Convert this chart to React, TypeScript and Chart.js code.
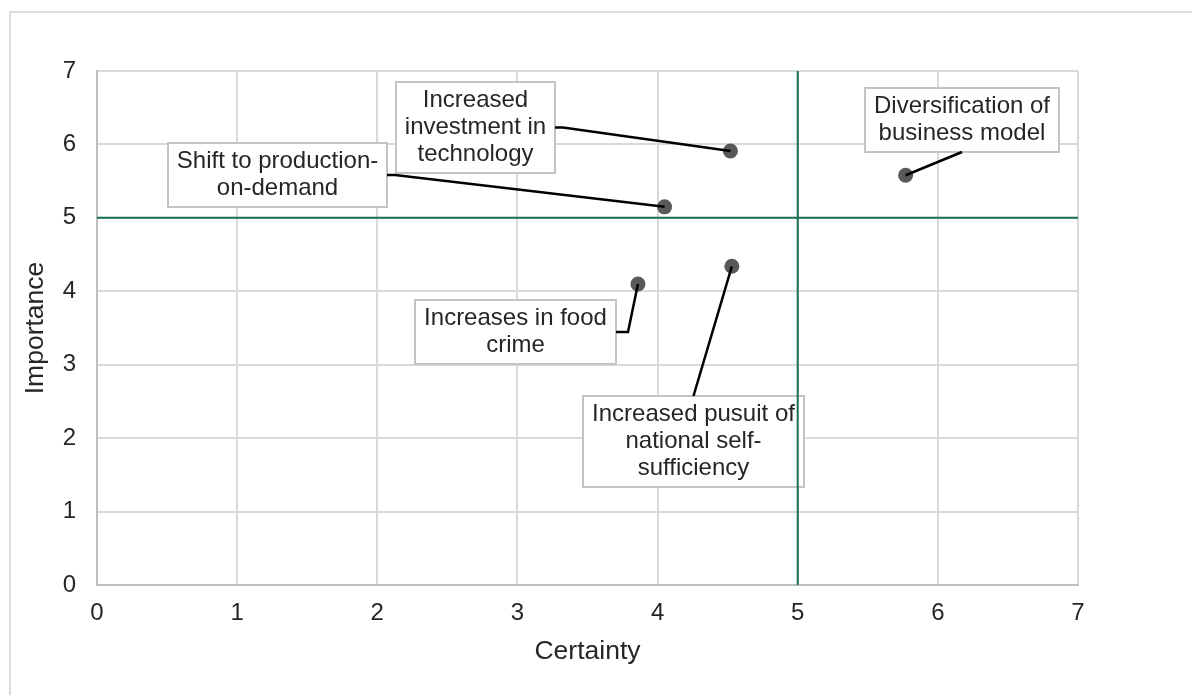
import React, { useEffect, useRef } from "react";
import { Chart, registerables } from "chart.js";

Chart.register(...registerables);

// ---- data ----
const topics = [
  "Increased investment in technology",
  "Shift to production-on-demand",
  "Diversification of business model",
  "Increases in food crime",
  "Increased pusuit of national self-sufficiency",
];
const certainty = [4.52, 4.05, 5.77, 3.86, 4.53];
const importance = [5.91, 5.15, 5.58, 4.1, 4.34];
const axisTicks = [0, 1, 2, 3, 4, 5, 6, 7];
const thresholdCertainty = 5;
const thresholdImportance = 5;

// ---- callout labels (text broken into lines as in the reference) ----
const labelLines = [
  ["Increased", "investment in", "technology"],
  ["Shift to production-", "on-demand"],
  ["Diversification of", "business model"],
  ["Increases in food", "crime"],
  ["Increased pusuit of", "national self-", "sufficiency"],
];
const labelCenterX = [2.7, 1.285, 6.17, 2.983, 4.253];
const labelCenterY = [6.224, 5.59, 6.339, 3.439, 1.961];
const leaderSide = ["right", "right", "bottom", "right", "top"];
const leaderStub = [8, 8, 0, 12, 0];

const FONT = '"Liberation Sans", Arial, Helvetica, sans-serif';
const TEXT = "#262626";
const GREEN = "#18714f";

function boxGeom(chart: any, i: number) {
  const ctx = chart.ctx;
  const xs = chart.scales.x;
  const ys = chart.scales.y;
  ctx.save();
  ctx.font = `24px ${FONT}`;
  const lines = labelLines[i];
  let w = 0;
  for (const l of lines) w = Math.max(w, ctx.measureText(l).width);
  ctx.restore();
  const lh = 27;
  const bw = Math.round(w + 18);
  const bh = lines.length * lh + 10;
  const cx = xs.getPixelForValue(labelCenterX[i]);
  const cy = ys.getPixelForValue(labelCenterY[i]);
  const left = Math.round(cx - bw / 2);
  const top = Math.round(cy - bh / 2);
  return { left, top, w: bw, h: bh, lh, lines };
}

const calloutPlugin = {
  id: "callouts",
  beforeDatasetsDraw(chart: any) {
    const ctx = chart.ctx;
    for (let i = 0; i < topics.length; i++) {
      const g = boxGeom(chart, i);
      ctx.save();
      ctx.fillStyle = "#ffffff";
      ctx.fillRect(g.left, g.top, g.w, g.h);
      ctx.strokeStyle = "#c4c4c4";
      ctx.lineWidth = 2;
      ctx.strokeRect(g.left, g.top, g.w, g.h);
      ctx.fillStyle = TEXT;
      ctx.font = `24px ${FONT}`;
      ctx.textAlign = "center";
      ctx.textBaseline = "middle";
      g.lines.forEach((l: string, k: number) => {
        ctx.fillText(l, g.left + g.w / 2, g.top + 5 + g.lh * (k + 0.5));
      });
      ctx.restore();
    }
  },
  afterDatasetsDraw(chart: any) {
    const ctx = chart.ctx;
    const xs = chart.scales.x;
    const ys = chart.scales.y;
    for (let i = 0; i < topics.length; i++) {
      const g = boxGeom(chart, i);
      const px = xs.getPixelForValue(certainty[i]);
      const py = ys.getPixelForValue(importance[i]);
      const pts: [number, number][] = [];
      const side = leaderSide[i];
      if (side === "right") {
        const y = g.top + g.h / 2;
        pts.push([g.left + g.w, y]);
        if (leaderStub[i]) pts.push([g.left + g.w + leaderStub[i], y]);
      } else if (side === "left") {
        const y = g.top + g.h / 2;
        pts.push([g.left, y]);
        if (leaderStub[i]) pts.push([g.left - leaderStub[i], y]);
      } else if (side === "bottom") {
        pts.push([g.left + g.w / 2, g.top + g.h]);
      } else {
        pts.push([g.left + g.w / 2, g.top]);
      }
      pts.push([px, py]);
      ctx.save();
      ctx.strokeStyle = "#000000";
      ctx.lineWidth = 2.5;
      ctx.lineJoin = "miter";
      ctx.beginPath();
      pts.forEach((p, k) => (k === 0 ? ctx.moveTo(p[0], p[1]) : ctx.lineTo(p[0], p[1])));
      ctx.stroke();
      ctx.restore();
    }
  },
};

export default function App() {
  const ref = useRef<HTMLCanvasElement | null>(null);

  useEffect(() => {
    if (!ref.current) return;
    const gridColor = (c: any) => (c.tick && c.tick.value === 0 ? "#bfbfbf" : "#d9d9d9");
    const chart = new Chart(ref.current, {
      type: "scatter",
      data: {
        datasets: [
          {
            type: "scatter",
            label: "Topics",
            data: certainty.map((c, i) => ({ x: c, y: importance[i] })),
            backgroundColor: "#595959",
            borderWidth: 0,
            pointRadius: 7.5,
            pointHoverRadius: 7.5,
          },
          {
            type: "line",
            label: "Certainty threshold",
            data: [
              { x: thresholdCertainty, y: axisTicks[0] },
              { x: thresholdCertainty, y: axisTicks[axisTicks.length - 1] },
            ],
            borderColor: GREEN,
            borderWidth: 2,
            pointRadius: 0,
            fill: false,
          },
          {
            type: "line",
            label: "Importance threshold",
            data: [
              { x: axisTicks[0], y: thresholdImportance },
              { x: axisTicks[axisTicks.length - 1], y: thresholdImportance },
            ],
            borderColor: GREEN,
            borderWidth: 2,
            pointRadius: 0,
            fill: false,
          },
        ],
      },
      options: {
        animation: false,
        responsive: false,
        devicePixelRatio: 1,
        events: [],
        layout: { padding: { top: 71, right: 114, bottom: 0, left: 0 } },
        plugins: {
          legend: { display: false },
          tooltip: { enabled: false },
        },
        scales: {
          x: {
            type: "linear",
            min: axisTicks[0],
            max: axisTicks[axisTicks.length - 1],
            afterBuildTicks: (s: any) => {
              s.ticks = axisTicks.map((v) => ({ value: v }));
            },
            afterFit: (s: any) => {
              s.height = 110;
            },
            grid: { color: gridColor, lineWidth: 2, drawTicks: false },
            border: { color: "#bfbfbf", width: 2 },
            ticks: {
              padding: 14,
              color: TEXT,
              font: { family: FONT, size: 24 },
              maxRotation: 0,
            },
            title: {
              display: true,
              text: "Certainty",
              color: TEXT,
              font: { family: FONT, size: 26.5, lineHeight: 1.2 },
              padding: { top: 0, bottom: 27 },
            },
          },
          y: {
            type: "linear",
            min: axisTicks[0],
            max: axisTicks[axisTicks.length - 1],
            afterBuildTicks: (s: any) => {
              s.ticks = axisTicks.map((v) => ({ value: v }));
            },
            afterFit: (s: any) => {
              s.width = 97;
            },
            grid: { color: gridColor, lineWidth: 2, drawTicks: false },
            border: { color: "#bfbfbf", width: 2 },
            ticks: {
              padding: 21,
              color: TEXT,
              font: { family: FONT, size: 24 },
            },
            title: {
              display: true,
              text: "Importance",
              color: TEXT,
              font: { family: FONT, size: 26.5, lineHeight: 1.2 },
              padding: { top: 20, bottom: 0 },
            },
          },
        },
      } as any,
      plugins: [calloutPlugin],
    });
    return () => chart.destroy();
  }, []);

  return (
    <div
      style={{
        position: "absolute",
        left: 0,
        top: 0,
        width: 1192,
        height: 695,
        overflow: "hidden",
        background: "#ffffff",
      }}
    >
      <div
        style={{
          position: "absolute",
          left: 9,
          top: 11,
          width: 1400,
          height: 900,
          border: "2px solid #dcdcdc",
          boxSizing: "border-box",
        }}
      />
      <canvas
        ref={ref}
        width={1192}
        height={695}
        style={{ position: "absolute", left: 0, top: 0, width: 1192, height: 695 }}
      />
    </div>
  );
}
